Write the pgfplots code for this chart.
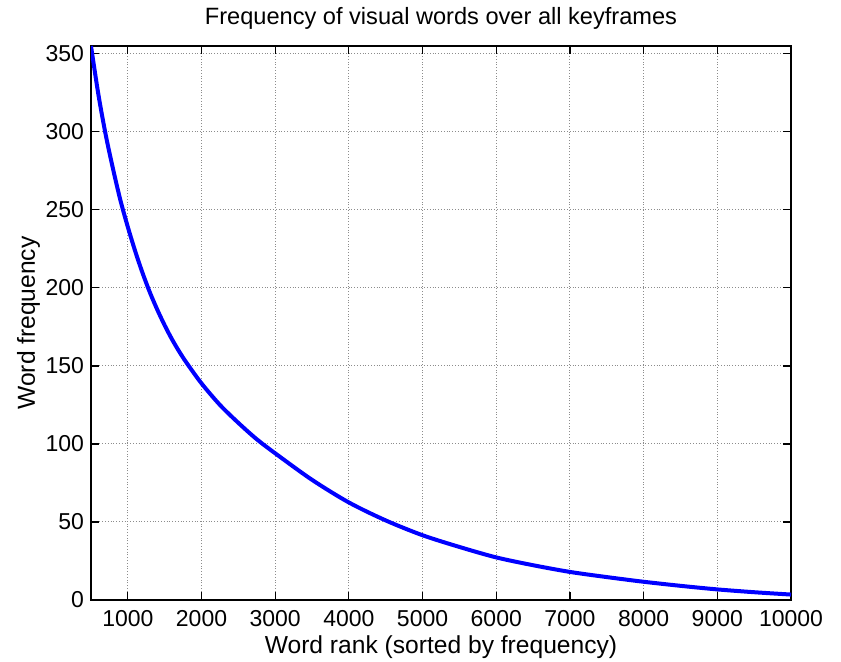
\documentclass[border=0pt]{standalone}
\usepackage{fontspec}
\setmainfont{Liberation Sans}
\usepackage{pgfplots}
\pgfplotsset{compat=1.18}
\begin{document}
\begin{tikzpicture}
\begin{axis}[
  scale only axis,
  width=350pt, height=277pt,
  xmin=500, xmax=10000,
  ymin=0, ymax=355,
  xtick={1000,2000,...,10000},
  ytick={0,50,...,350},
  /pgf/number format/assume math mode=true,
  /pgf/number format/1000 sep={},
  scaled x ticks=false,
  tick align=inside,
  tick pos=both,
  major tick length=4pt,
  grid=major,
  major grid style={black!45, densely dotted, line width=0.5pt},
  axis line style={black, line width=0.9pt},
  every tick/.style={black, line width=0.6pt},
  tick label style={font=\fontsize{11.5}{13}\selectfont},
  xticklabel style={yshift=-1.6pt},
  title={Frequency of visual words over all keyframes},
  title style={font=\fontsize{11.8}{13}\selectfont, at={(axis description cs:0.5,1.018)}, anchor=base},
  xlabel={Word rank (sorted by frequency)},
  xlabel style={font=\fontsize{12.3}{14}\selectfont, at={(axis description cs:0.5,-0.096)}, anchor=base},
  ylabel={Word frequency},
  ylabel style={font=\fontsize{12.3}{14}\selectfont, at={(axis description cs:-0.0893,0.5)}, anchor=center, rotate=0},
]
\addplot[blue, line width=2pt, smooth] coordinates {
(500,355) (600,324) (700,298) (800,276) (900,256) (1000,239)
(1100,223.5) (1200,209.5) (1300,197) (1400,186) (1500,176) (1600,167)
(1700,159) (1800,151.8) (2000,138.8) (2250,125) (2500,113.5) (2750,103)
(3000,94) (3500,77) (4000,62.5) (4500,51) (5000,41.5) (5500,34) (6000,27.3)
(6500,22.3) (7000,18) (7500,14.7) (8000,11.7) (8500,9.1) (9000,6.8)
(9500,5) (10000,3.5)
};
\end{axis}
\pgfresetboundingbox
\path[use as bounding box] ([shift={(-45.5pt,-30.5pt)}]current axis.south west) rectangle ([shift={(25pt,23pt)}]current axis.north east);
\end{tikzpicture}
\end{document}
